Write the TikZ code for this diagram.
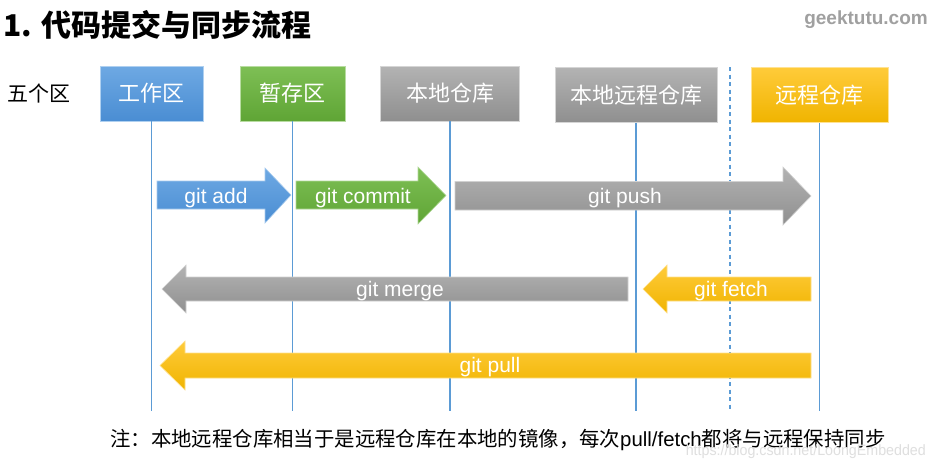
\documentclass[tikz,border=0pt]{standalone}
\usepackage{fontspec}
\setmainfont{Liberation Sans}
\newfontfamily\cjk{Noto Sans CJK SC}
\definecolor{lineblue}{HTML}{5B9BD5}
\definecolor{blueT}{HTML}{6EA9E3}
\definecolor{blueB}{HTML}{4A8DD3}
\definecolor{greenT}{HTML}{7EBF55}
\definecolor{greenB}{HTML}{5FA535}
\definecolor{grayT}{HTML}{B3B3B3}
\definecolor{grayB}{HTML}{8F8F8F}
\definecolor{yelT}{HTML}{FFCB3A}
\definecolor{yelB}{HTML}{F0B400}
\definecolor{wmgray}{HTML}{A0A0A0}
\tikzset{
  zone/.style n args={2}{draw=#1!55!white, line width=0.8pt, top color=#1, bottom color=#2,
    inner sep=0pt, minimum height=55pt, text=white, font=\cjk\fontsize{22}{22}\selectfont},
  life/.style={draw=lineblue, line width=1.8pt},
  arr/.style n args={2}{draw=#1!60!white, line width=0.6pt, top color=#1, bottom color=#2},
  arrlabel/.style={text=white, font=\fontsize{21}{21}\selectfont, inner sep=0pt}
}
\begin{document}
\begin{tikzpicture}[x=1pt,y=-1pt]
\useasboundingbox (0,0) rectangle (934,467);
\fill[white] (0,0) rectangle (934,467);
% title
\node[anchor=west, inner sep=0pt, font=\cjk\bfseries\fontsize{30}{30}\selectfont] (title) at (3,25) {1. 代码提交与同步流程};
\node[anchor=east, inner sep=0pt, text=wmgray, font=\bfseries\fontsize{19}{19}\selectfont] (site) at (928,20) {geektutu.com};
\node[anchor=west, inner sep=0pt, font=\cjk\fontsize{21}{21}\selectfont] (five) at (7,93) {五个区};
% boxes
\node[zone={blueT}{blueB}, minimum width=103pt] (wa) at (151.5,93.5) {工作区};
\node[zone={greenT}{greenB}, minimum width=105pt] (st) at (292.5,93.5) {暂存区};
\node[zone={grayT}{grayB}, minimum width=139pt] (lr) at (450,93.5) {本地仓库};
\node[zone={grayT}{grayB}, minimum width=162pt] (lrr) at (636,95) {本地远程仓库};
\node[zone={yelT}{yelB}, minimum width=137pt] (rr) at (819.5,95) {远程仓库};
% bottom coordinates
\coordinate (bot) at (0,411);
\coordinate (dtop) at (730,67);
\coordinate (dbot) at (730,411);
% lifelines
\draw[life] (wa.south) -- (wa.south |- bot);
\draw[life] (st.south) -- (st.south |- bot);
\draw[life] (lr.south) -- (lr.south |- bot);
\draw[life] (lrr.south) -- (lrr.south |- bot);
\draw[life] (rr.south) -- (rr.south |- bot);
\draw[draw=lineblue, line width=1.3pt, dash pattern=on 4pt off 3.5pt] (dtop) -- (dbot);
% right arrows
\path[arr={blueT}{blueB}] (157,181) -- (265,181) -- (265,168) -- (291,195) -- (265,223) -- (265,209) -- (157,209) -- cycle;
\path[arr={greenT}{greenB}] (296,181) -- (418,181) -- (418,167) -- (446,195.5) -- (418,224) -- (418,209) -- (296,209) -- cycle;
\path[arr={grayT}{grayB}] (455,181.5) -- (783,181.5) -- (783,167) -- (811,196) -- (783,225) -- (783,210) -- (455,210) -- cycle;
% left arrows
\path[arr={grayT}{grayB}] (628,277) -- (186,277) -- (186,265) -- (162,289) -- (186,313) -- (186,301) -- (628,301) -- cycle;
\path[arr={yelT}{yelB}] (811,277) -- (667,277) -- (667,265) -- (643,289) -- (667,313) -- (667,301) -- (811,301) -- cycle;
\path[arr={yelT}{yelB}] (811,353) -- (185,353) -- (185,341) -- (160,365.5) -- (185,390) -- (185,378) -- (811,378) -- cycle;
% arrow labels
\node[arrlabel] (ladd) at (216,198) {git add};
\node[arrlabel] (lcommit) at (363,198) {git commit};
\node[arrlabel] (lpush) at (625,198) {git push};
\node[arrlabel] (lmerge) at (400,291) {git merge};
\node[arrlabel] (lfetch) at (731,291) {git fetch};
\node[arrlabel] (lpull) at (490,367) {git pull};
% note
\node[anchor=west, inner sep=0pt, font=\cjk\fontsize{20.4}{20.4}\selectfont] (note) at (110,440) {注：本地远程仓库相当于是远程仓库在本地的镜像，每次{\rmfamily pull/fetch}都将与远程保持同步};
\node[anchor=east, inner sep=0pt, text=gray!25, font=\fontsize{15}{15}\selectfont, xscale=0.95] (wm) at (926,452) {https://blog.csdn.net/LoongEmbedded};
\end{tikzpicture}
\end{document}
